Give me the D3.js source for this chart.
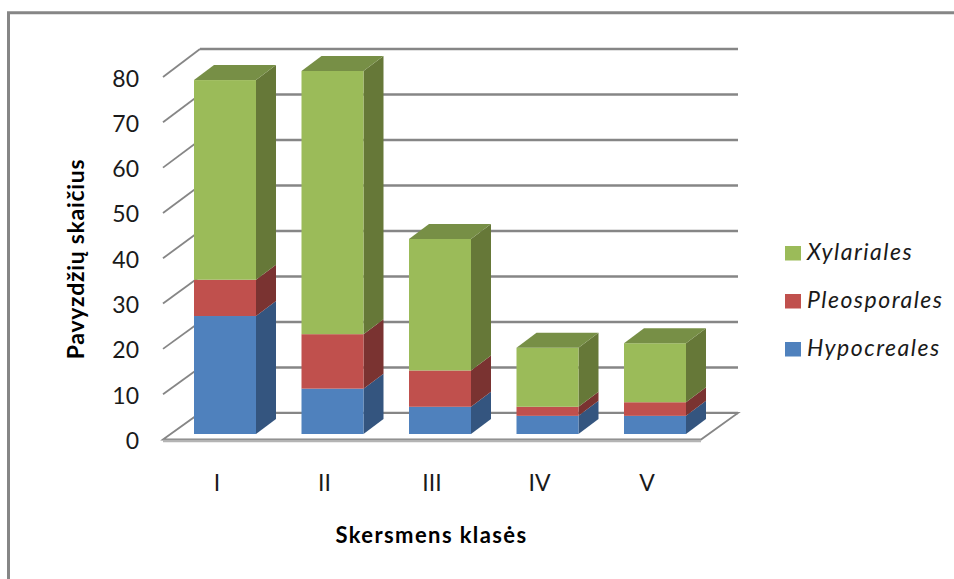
<!DOCTYPE html>
<html><head><meta charset="utf-8">
<style>html,body{margin:0;background:#fff}svg{display:block}text{font-family:Lato,"Open Sans",sans-serif}</style>
<script src="https://cdn.jsdelivr.net/npm/d3@7"></script></head><body>
<script>
const categories = ["I","II","III","IV","V"];
const seriesNames = ["Hypocreales","Pleosporales","Xylariales"];
const legendOrder = ["Xylariales","Pleosporales","Hypocreales"];
const hypocreales = [26,10,6,4,4];
const pleosporales = [8,12,8,2,3];
const xylariales = [44,58,29,13,13];
const yTicks = [0,10,20,30,40,50,60,70,80];
const colors = {Hypocreales:["#4f81bd","#34557f","#2f5078"],Pleosporales:["#c0504d","#7a3331","#8f3c3a"],Xylariales:["#9bbb59","#667838","#778f46"]};
const table = categories.map((c,i)=>({c,Hypocreales:hypocreales[i],Pleosporales:pleosporales[i],Xylariales:xylariales[i]}));

const svg = d3.select("body").append("svg").attr("width",954).attr("height",579);
svg.append("path").attr("d","M8.5,579V12.7H954").attr("fill","none").attr("stroke","#868686").attr("stroke-width",3);

const xc = d3.scalePoint().domain(categories).range([217,647]);
const yF = d3.scaleLinear().domain([0,80]).range([439.5,77]);
const yB = d3.scaleLinear().domain([0,80]).range([413,49]);
const yBar = d3.scaleLinear().domain([0,80]).range([434,71]);
const wallDx=37, side={dx:20,dy:-15}, barW=62;

const g=svg.append("g").attr("fill","none").attr("stroke","#868686").attr("stroke-width",2.4);
yTicks.forEach(t=>{
  if(t>0) g.append("line").attr("x1",163).attr("y1",yF(t)).attr("x2",163+wallDx).attr("y2",yB(t)).attr("stroke-width",1.8);
  g.append("line").attr("x1",163+wallDx).attr("y1",yB(t)).attr("x2",701+wallDx).attr("y2",yB(t));
});
g.append("path").attr("d",`M163,${yF(0)}L${163+wallDx},${yB(0)}H${701+wallDx}L701,${yF(0)}Z`).attr("fill","#fff").attr("stroke-width",1.8);
svg.append("line").attr("x1",163).attr("x2",701).attr("y1",yF(0)+1.5).attr("y2",yF(0)+1.5).attr("stroke","#b4b4b4").attr("stroke-width",2.5);

const stack=d3.stack().keys(seriesNames)(table);
stack.forEach(layer=>{
  const col=colors[layer.key];
  const gl=svg.append("g");
  layer.forEach(d=>{
    const c=d.data.c, xl=xc(c)-23, xr=xl+barW, y0=yBar(d[0]), y1=yBar(d[1]);
    gl.append("polygon").attr("points",[[xr,y0],[xr+side.dx,y0+side.dy],[xr+side.dx,y1+side.dy],[xr,y1]].join(" ")).attr("fill",col[1]);
    gl.append("rect").attr("x",xl).attr("y",y1).attr("width",barW).attr("height",y0-y1).attr("fill",col[0]);
    if(layer.key==="Xylariales")
      gl.append("polygon").attr("points",[[xl,y1],[xl+side.dx,y1+side.dy],[xr+side.dx,y1+side.dy],[xr,y1]].join(" ")).attr("fill",col[2]);
  });
});

svg.append("g").selectAll("text").data(yTicks).join("text")
  .attr("x",139).attr("y",t=>yF(t)+9.5).attr("text-anchor","end").attr("font-size",23).attr("fill","#1a1a1a").text(d=>d);
svg.append("g").selectAll("text").data(categories).join("text")
  .attr("x",c=>xc(c)).attr("y",491).attr("text-anchor","middle").attr("font-size",23).attr("fill","#1a1a1a").text(d=>d);
svg.append("text").attr("transform","translate(84,259) rotate(-90)").attr("text-anchor","middle").attr("font-size",23).attr("font-weight",700).attr("letter-spacing",0.7).attr("fill","#000").text("Pavyzdžių skaičius");
svg.append("text").attr("x",431.5).attr("y",543).attr("text-anchor","middle").attr("font-size",22).attr("font-weight",700).attr("letter-spacing",1.4).attr("fill","#000").text("Skersmens klasės");
const ly=d3.scalePoint().domain(legendOrder).range([253,349]);
legendOrder.forEach(n=>{
  svg.append("rect").attr("x",785).attr("y",ly(n)-7).attr("width",16).attr("height",14.5).attr("fill",colors[n][0]);
  svg.append("text").attr("x",807).attr("y",ly(n)+7).attr("font-size",23).attr("font-style","italic").attr("letter-spacing",1.5).attr("fill","#1a1a1a").text(n);
});
</script></body></html>
